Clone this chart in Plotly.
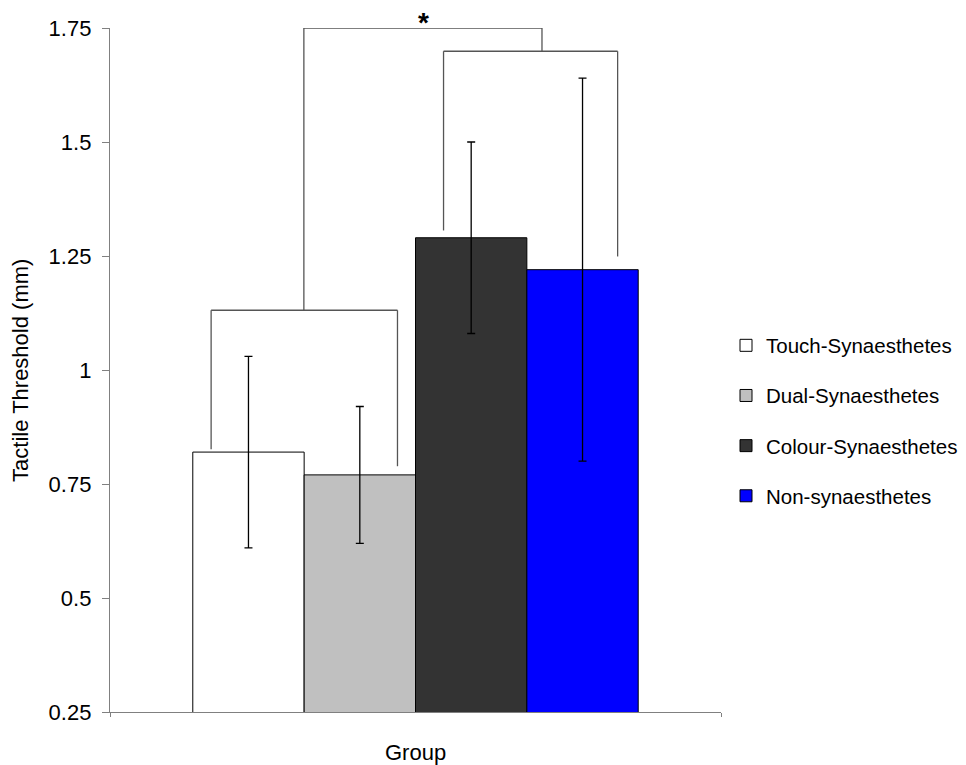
import plotly.graph_objects as go

# ---- data ----
groups = ["Touch-Synaesthetes", "Dual-Synaesthetes", "Colour-Synaesthetes", "Non-synaesthetes"]
means = [0.82, 0.77, 1.29, 1.22]
errors = [0.21, 0.15, 0.21, 0.42]
colors = ["#FFFFFF", "#C0C0C0", "#333333", "#0000FF"]
category = "Group"
y_ticks = [0.25, 0.5, 0.75, 1, 1.25, 1.5, 1.75]
y_tick_labels = ["0.25", "0.5", "0.75", "1", "1.25", "1.5", "1.75"]

FONT = "Arial, Liberation Sans, sans-serif"

fig = go.Figure()
for g, m, e, c in zip(groups, means, errors, colors):
    fig.add_trace(go.Bar(
        x=[0], y=[m], name=g, legendgroup=g,
        marker=dict(color=c, line=dict(color="#000000", width=1)),
        error_y=dict(type="data", array=[e], visible=True, color="#000000",
                     thickness=1.3, width=4),
    ))

# significance brackets (data coordinates)
bracket_color = "#555555"
segments = [
    # left bracket (touch vs dual)
    (-0.3345, 0.826, -0.3345, 1.131),
    (-0.3345, 1.131, -0.0295, 1.131),
    (-0.0295, 1.131, -0.0295, 0.789),
    # right bracket (colour vs non)
    (0.0459, 1.306, 0.0459, 1.699),
    (0.0459, 1.699, 0.3308, 1.699),
    (0.3308, 1.699, 0.3308, 1.249),
    # top bracket
    (-0.1827, 1.131, -0.1827, 1.75),
    (-0.1827, 1.75, 0.207, 1.75),
    (0.207, 1.75, 0.207, 1.699),
]
for x0, y0, x1, y1 in segments:
    fig.add_shape(type="line", xref="x", yref="y", x0=x0, y0=y0, x1=x1, y1=y1,
                  line=dict(color=bracket_color, width=1.3), layer="above")

fig.add_annotation(x=0.0126, y=1.75, xref="x", yref="y", text="<b>*</b>",
                   showarrow=False, yanchor="bottom", yshift=-12,
                   font=dict(family=FONT, size=28, color="#000000"))

# axis titles
fig.add_annotation(x=-0.1474, y=0.5, xref="paper", yref="paper",
                   text="Tactile Threshold (mm)", textangle=-90, showarrow=False,
                   xanchor="center", yanchor="middle",
                   font=dict(family=FONT, size=22, color="#000000"))
fig.add_annotation(x=0.5, y=-0.0585, xref="paper", yref="paper",
                   text=category, showarrow=False,
                   xanchor="center", yanchor="middle",
                   font=dict(family=FONT, size=22, color="#000000"))

fig.update_layout(
    width=966, height=765,
    margin=dict(l=110, r=245, t=28, b=53),
    paper_bgcolor="white", plot_bgcolor="white",
    barmode="group", bargap=0.271, bargroupgap=0,
    font=dict(family=FONT, size=22, color="#000000"),
    showlegend=True,
    legend=dict(xref="container", yref="container",
                x=726 / 966, y=1 - 421 / 765, xanchor="left", yanchor="middle",
                font=dict(family=FONT, size=20.5, color="#000000"),
                tracegroupgap=20.5, bgcolor="rgba(0,0,0,0)"),
    xaxis=dict(range=[-0.5, 0.5], showgrid=False, zeroline=False,
               showline=True, linecolor="#808080", linewidth=1.3,
               tickvals=[-0.5, 0.5], ticktext=["", ""], ticks="outside",
               ticklen=4, tickcolor="#808080", automargin=False),
    yaxis=dict(range=[0.25, 1.75], showgrid=False, zeroline=False,
               showline=True, linecolor="#808080", linewidth=1.3,
               tickvals=y_ticks, ticktext=y_tick_labels, ticks="outside",
               ticklen=7, tickcolor="#808080", ticklabelstandoff=6,
               automargin=False),
)

fig.write_html("out.html")
